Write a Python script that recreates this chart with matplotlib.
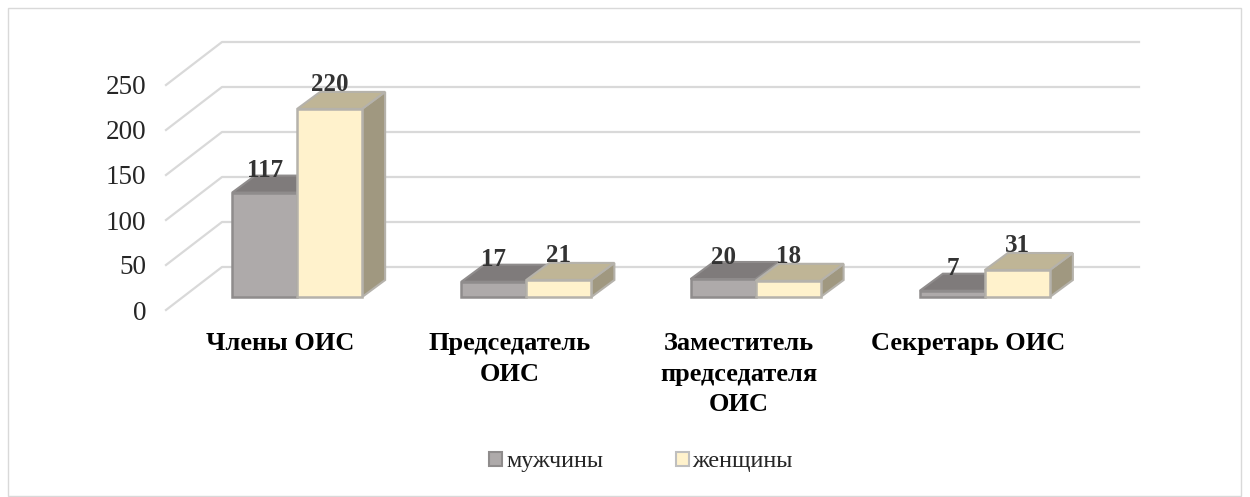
import matplotlib
matplotlib.use("Agg")
import matplotlib.pyplot as plt
from matplotlib.patches import Patch, Rectangle

plt.rcParams['font.family'] = ['Liberation Serif', 'DejaVu Serif']

categories = ['Члены ОИС', 'Председатель\nОИС', 'Заместитель\nпредседателя\nОИС', 'Секретарь ОИС']
series_names = ['мужчины', 'женщины']
men_heights = [116, 17, 20, 7]
women_heights = [209, 19, 18, 30]
men_labels = ['117', '17', '20', '7']
women_labels = ['220', '21', '18', '31']
y_ticks = [0, 50, 100, 150, 200, 250]

W, H = 1250, 497
fig = plt.figure(figsize=(W / 100, H / 100), dpi=100)

# axes = front plane of the fake 3d box, pixels
left, right, top, bottom = 166, 1083, 85, 310
ax = fig.add_axes([left / W, 1 - bottom / H, (right - left) / W, (bottom - top) / H])
ax.set_xlim(-0.5, 3.5)
ax.set_ylim(0, 250)
ax.patch.set_alpha(0)
for s in ax.spines.values():
    s.set_visible(False)

px_x = 4 / (right - left)   # data units per pixel
px_y = 250 / (bottom - top)

# walls
wall_dx, wall_dy = 56 * px_x, 43 * px_y
for v in y_ticks:
    ax.plot([-0.5, -0.5 + wall_dx, 3.5 + wall_dx], [v, v + wall_dy, v + wall_dy],
            color='#d9d9d9', lw=1.6, clip_on=False, zorder=1)

# bars
bar_w = 65 * px_x
shift = 16.5 * px_x
floor = 13 * px_y
dx, dy = 23 * px_x, 17 * px_y


def box(x0, h, front, top_col, side, edge):
    x1 = x0 + bar_w
    y1 = floor + h
    ax.fill([x1, x1 + dx, x1 + dx, x1], [floor, floor + dy, y1 + dy, y1],
            facecolor=side, edgecolor=edge, lw=1.5, clip_on=False, zorder=3)
    ax.fill([x0, x0 + dx, x1 + dx, x1], [y1, y1 + dy, y1 + dy, y1],
            facecolor=top_col, edgecolor=edge, lw=1.5, clip_on=False, zorder=3)
    ax.bar(x0, h, bar_w, bottom=floor, align='edge', facecolor=front,
           edgecolor=edge, lw=1.8, clip_on=False, zorder=3)


for i in range(len(categories)):
    box(i + shift - bar_w, men_heights[i], '#aeaaaa', '#7f7b7b', '#7f7b7b', '#8f8c8c')
    box(i + shift, women_heights[i], '#fff2cc', '#bfb596', '#a09880', '#b5b2ab')
    ax.text(i + shift - bar_w / 2, floor + men_heights[i] + 22 * px_y, men_labels[i],
            ha='center', va='center', fontsize=18, fontweight='bold', color='#333333', zorder=5)
    ax.text(i + shift + bar_w / 2, floor + women_heights[i] + 24 * px_y, women_labels[i],
            ha='center', va='center', fontsize=18, fontweight='bold', color='#333333', zorder=5)

ax.set_yticks(y_ticks)
ax.set_xticks(range(len(categories)))
ax.set_xticklabels(categories, fontsize=19, fontweight='bold', color='black', linespacing=1.42)
ax.tick_params(axis='y', length=0, pad=14, labelsize=19.5, labelcolor='#262626')
ax.tick_params(axis='x', length=0, pad=16)
for t in ax.get_yticklabels():
    t.set_verticalalignment('center_baseline')

handles = [Patch(facecolor='#aeaaaa', edgecolor='#8f8c8c', lw=1.5),
           Patch(facecolor='#fff2cc', edgecolor='#bfbfbf', lw=1.5)]
fig.legend(handles, series_names, ncols=2, frameon=False, fontsize=17.4,
           loc='center', bbox_to_anchor=(641 / W, 1 - 462 / H),
           handlelength=0.55, handleheight=0.55, handletextpad=0.15, columnspacing=3.0,
           labelcolor='#262626')

fig.add_artist(Rectangle((8 / W, 1 - 496 / H), 1233 / W, 488 / H, transform=fig.transFigure,
                         fill=False, edgecolor='#d9d9d9', lw=1))

fig.savefig('out.png', dpi=100)
